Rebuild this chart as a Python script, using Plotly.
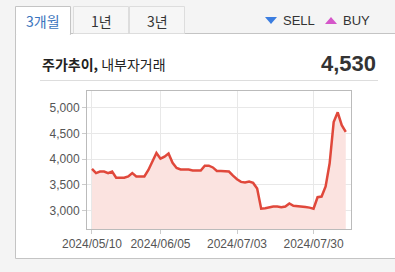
import plotly.graph_objects as go

dates = [
    "2024/05/10", "2024/05/13", "2024/05/14", "2024/05/16", "2024/05/17",
    "2024/05/20", "2024/05/21", "2024/05/22", "2024/05/23", "2024/05/24",
    "2024/05/27", "2024/05/28", "2024/05/29", "2024/05/30", "2024/05/31",
    "2024/06/03", "2024/06/04", "2024/06/05", "2024/06/07", "2024/06/10",
    "2024/06/11", "2024/06/12", "2024/06/13", "2024/06/14", "2024/06/17",
    "2024/06/18", "2024/06/19", "2024/06/20", "2024/06/21", "2024/06/24",
    "2024/06/25", "2024/06/26", "2024/06/27", "2024/06/28", "2024/07/01",
    "2024/07/02", "2024/07/03", "2024/07/04", "2024/07/05", "2024/07/08",
    "2024/07/09", "2024/07/10", "2024/07/11", "2024/07/12", "2024/07/15",
    "2024/07/16", "2024/07/17", "2024/07/18", "2024/07/19", "2024/07/22",
    "2024/07/23", "2024/07/24", "2024/07/25", "2024/07/26", "2024/07/29",
    "2024/07/30", "2024/07/31", "2024/08/01", "2024/08/02", "2024/08/05",
    "2024/08/06", "2024/08/07", "2024/08/08", "2024/08/09",
]
prices = [
    3810, 3730, 3760, 3760, 3730, 3760, 3640, 3640, 3640, 3665,
    3730, 3665, 3665, 3665, 3790, 3940, 4120, 4010, 4050, 4110,
    3930, 3830, 3800, 3800, 3800, 3780, 3780, 3780, 3875, 3875,
    3840, 3770, 3770, 3770, 3760, 3680, 3610, 3560, 3550, 3565,
    3540, 3430, 3040, 3050, 3068, 3080, 3080, 3068, 3080, 3140,
    3095, 3090, 3075, 3070, 3060, 3040, 3262, 3275, 3470, 3920,
    4720, 4910, 4660, 4530,
]
x_tick_labels = ["2024/05/10", "2024/06/05", "2024/07/03", "2024/07/30"]
y_tick_values = [3000, 3500, 4000, 4500, 5000]
tabs = ["3개월", "1년", "3년"]
last_price = "4,530"

W, H = 395, 272
L, R, T, B = 87, 351, 91, 229
PW, PH = R - L, B - T


def px(x):
    return (x - L) / PW


def py(y):
    return (B - y) / PH


fig = go.Figure()
fig.add_trace(go.Scatter(
    x=dates, y=prices, mode="lines",
    line=dict(color="#e0483b", width=2.5),
    fill="tozeroy", fillcolor="#fbe3e0",
    hoverinfo="skip", showlegend=False,
))

shapes = []
# panel
shapes.append(dict(type="rect", xref="paper", yref="paper",
                   x0=px(15.5), x1=px(420), y0=py(33.5), y1=py(258.5),
                   line=dict(color="#c4c4c4", width=1), fillcolor="white", layer="below"))
# tabs
tab_x = [(15.5, 70.5), (73.5, 128.5), (129.5, 184.5)]
for i, (a, b) in enumerate(tab_x):
    if i == 0:
        shapes.append(dict(type="rect", xref="paper", yref="paper",
                           x0=px(a), x1=px(b), y0=py(34.5), y1=py(6.5),
                           line=dict(color="#c4c4c4", width=1), fillcolor="white", layer="below"))
        shapes.append(dict(type="rect", xref="paper", yref="paper",
                           x0=px(a + 0.6), x1=px(b - 0.6), y0=py(35), y1=py(32),
                           line=dict(width=0), fillcolor="white", layer="below"))
    else:
        shapes.append(dict(type="rect", xref="paper", yref="paper",
                           x0=px(a), x1=px(b), y0=py(33.5), y1=py(6.5),
                           line=dict(color="#dddddd", width=1), fillcolor="#f6f6f6", layer="below"))
# separator
shapes.append(dict(type="line", xref="paper", yref="paper",
                   x0=px(40), x1=px(378), y0=py(80.5), y1=py(80.5),
                   line=dict(color="#dddddd", width=1)))
# legend triangles
shapes.append(dict(type="path", xref="paper", yref="paper",
                   path=f"M {px(265)},{py(17)} L {px(277)},{py(17)} L {px(271)},{py(24)} Z",
                   line=dict(width=0), fillcolor="#3b7de0"))
shapes.append(dict(type="path", xref="paper", yref="paper",
                   path=f"M {px(325)},{py(24)} L {px(337)},{py(24)} L {px(331)},{py(17)} Z",
                   line=dict(width=0), fillcolor="#d556c9"))

ann = []
KR = "Noto Sans CJK KR, sans-serif"
tab_colors = ["#3a74bd", "#333333", "#333333"]
for i, (a, b) in enumerate(tab_x):
    ann.append(dict(text=tabs[i], x=px((a + b) / 2), y=py(20.5), xref="paper", yref="paper",
                    xanchor="center", yanchor="middle", showarrow=False,
                    font=dict(family=KR, size=14, color=tab_colors[i])))
ann.append(dict(text="SELL", x=px(281), y=py(20.5), xref="paper", yref="paper",
                xanchor="left", yanchor="middle", showarrow=False,
                font=dict(family="Liberation Sans, Arial", size=13, color="#333333")))
ann.append(dict(text="BUY", x=px(341), y=py(20.5), xref="paper", yref="paper",
                xanchor="left", yanchor="middle", showarrow=False,
                font=dict(family="Liberation Sans, Arial", size=13, color="#333333")))
ann.append(dict(text="<b>주가추이,</b> 내부자거래", x=px(40), y=py(63.5), xref="paper", yref="paper",
                xanchor="left", yanchor="middle", showarrow=False,
                font=dict(family=KR, size=14, color="#222222")))
ann.append(dict(text=f"<b>{last_price}</b>", x=px(378), y=py(63.5), xref="paper", yref="paper",
                xanchor="right", yanchor="middle", showarrow=False,
                font=dict(family="Liberation Sans, Arial", size=22, color="#333333")))

fig.update_layout(
    width=W, height=H,
    margin=dict(l=L, r=W - R, t=T, b=H - B, pad=0),
    paper_bgcolor="#f4f4f4", plot_bgcolor="white",
    shapes=shapes, annotations=ann,
    xaxis=dict(type="category", range=[-1.24, 64.3], tickvals=x_tick_labels,
               ticktext=x_tick_labels, showgrid=True, gridcolor="#e8e8e8", gridwidth=1,
               ticks="outside", ticklen=4, tickcolor="#cccccc",
               showline=True, linecolor="#bbbbbb", mirror=True, zeroline=False,
               tickfont=dict(family="Liberation Sans, Arial", size=12, color="#555555")),
    yaxis=dict(range=[2645, 5324], tickvals=y_tick_values, tickformat=",",
               showgrid=True, gridcolor="#e8e8e8", gridwidth=1,
               ticks="outside", ticklen=4, tickcolor="#cccccc",
               showline=True, linecolor="#bbbbbb", mirror=True, zeroline=False,
               tickfont=dict(family="Liberation Sans, Arial", size=12, color="#555555")),
)

fig.write_html("out.html")
